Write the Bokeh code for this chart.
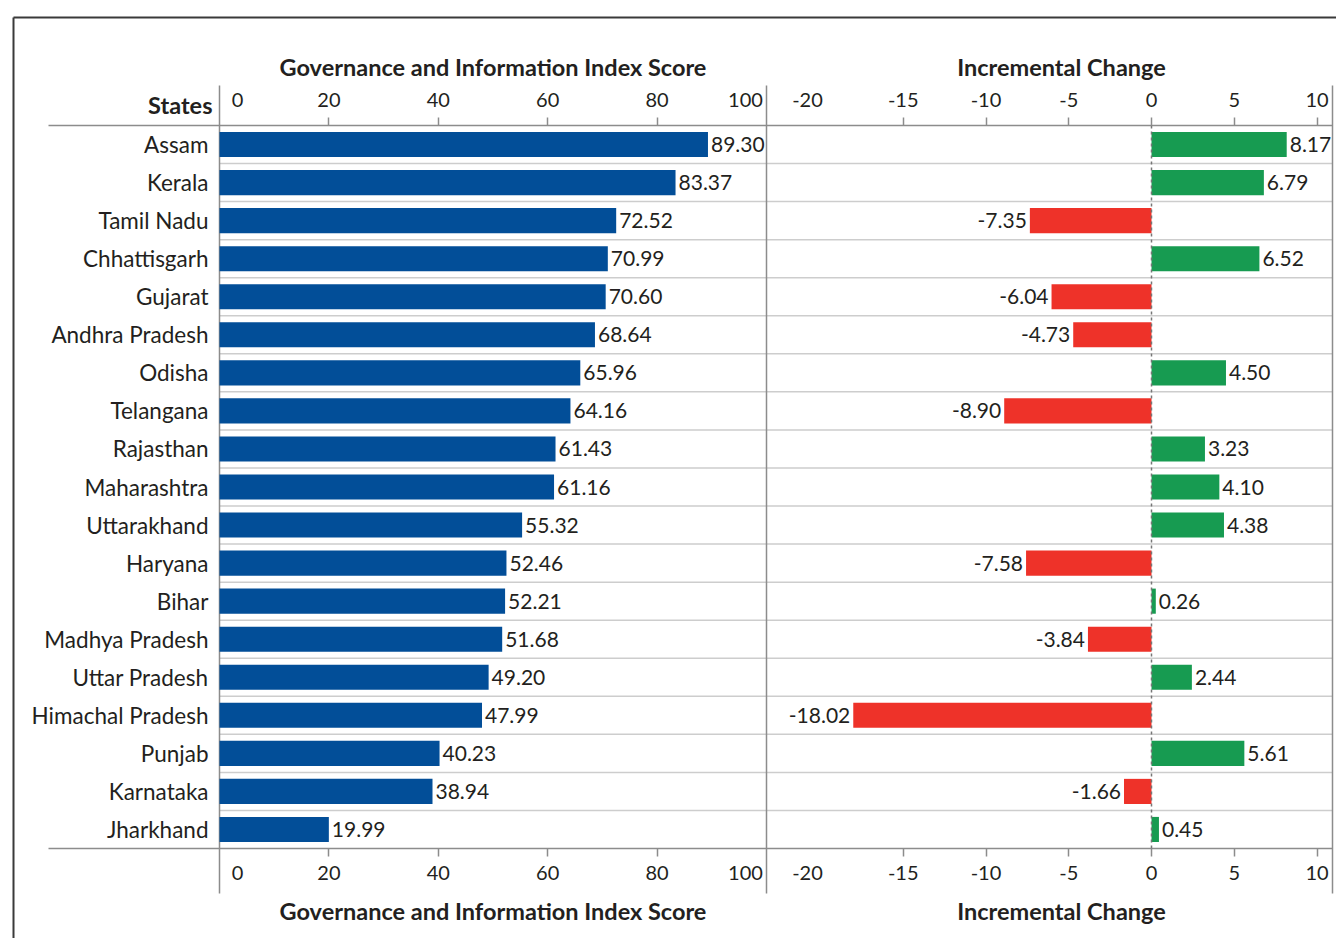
from bokeh.plotting import figure
from bokeh.models import Range1d, FixedTicker, LinearAxis, Label, ColumnDataSource
from bokeh.core.properties import value
from bokeh.embed import file_html
from bokeh.resources import INLINE

# ---------------- data ----------------
states = ["Assam", "Kerala", "Tamil Nadu", "Chhattisgarh", "Gujarat", "Andhra Pradesh",
          "Odisha", "Telangana", "Rajasthan", "Maharashtra", "Uttarakhand", "Haryana",
          "Bihar", "Madhya Pradesh", "Uttar Pradesh", "Himachal Pradesh", "Punjab",
          "Karnataka", "Jharkhand"]
scores = [89.30, 83.37, 72.52, 70.99, 70.60, 68.64, 65.96, 64.16, 61.43, 61.16,
          55.32, 52.46, 52.21, 51.68, 49.20, 47.99, 40.23, 38.94, 19.99]
changes = [8.17, 6.79, -7.35, 6.52, -6.04, -4.73, 4.50, -8.90, 3.23, 4.10,
           4.38, -7.58, 0.26, -3.84, 2.44, -18.02, 5.61, -1.66, 0.45]
score_ticks = [0, 20, 40, 60, 80, 100]
change_ticks = [-20, -15, -10, -5, 0, 5, 10]
score_title = "Governance and Information Index Score"
change_title = "Incremental Change"
cat_title = "States"

# ---------------- style / layout ----------------
BLUE = "#024E98"
GREEN = "#179B51"
RED = "#EE3229"
INK = "#231F20"
AXIS = "#8C8C8C"
SEP = "#CDCDCD"
FRAME = "#3A3A3A"
FONT = "Lato"

W, H = 1336, 938
PX_L, PX_MID, PX_R = 219, 766, 1332      # panel edges (pixels)
PX_TOP, PX_BOT = 125, 848                # table top / bottom
PX_ZERO = 1151                           # change-panel zero
n = len(states)
row_px = (PX_BOT - PX_TOP) / n
score_px = (PX_MID - PX_L) / 100.0
chg_px = 16.55
# pixel nudges of edge tick labels (label only, kept inside the panels)
LABEL_NUDGE = {("s", 0): 18, ("s", 100): -21, ("c", -20): -13}

x_start = -PX_L / score_px
x_end = (W - PX_L) / score_px
chg_start = -PX_ZERO / chg_px
chg_end = (W - PX_ZERO) / chg_px
chg_lo = (PX_MID - PX_ZERO) / chg_px
chg_hi = (PX_R - PX_ZERO) / chg_px
y_top = -PX_TOP / row_px
y_bottom = (H - PX_TOP) / row_px

def xp(px):   # pixel -> primary x
    return (px - PX_L) / score_px

def yp(py):   # pixel -> y
    return (py - PX_TOP) / row_px

ypos = [i + 0.5 for i in range(n)]

p = figure(width=W, height=H, x_range=Range1d(x_start, x_end),
           y_range=Range1d(y_bottom, y_top), output_backend="svg",
           toolbar_location=None, x_axis_location=None, y_axis_location=None,
           min_border=0, title_location=None)
p.outline_line_color = None
p.background_fill_color = "white"
p.border_fill_color = "white"
p.xgrid.visible = False
p.ygrid.visible = False

extra = {"chg": Range1d(chg_start, chg_end)}

# ---------------- structure lines ----------------
p.segment(x0=[xp(13), xp(13)], y0=[yp(17), yp(17)], x1=[xp(13), x_end + 50],
          y1=[y_bottom + 5, yp(17)], line_color=FRAME, line_width=2)
p.segment(x0=0, x1=xp(PX_R), y0=list(range(1, n)), y1=list(range(1, n)),
          line_color=SEP, line_width=1.5)
p.segment(x0=xp(48), x1=xp(PX_R), y0=[0, n], y1=[0, n], line_color=AXIS, line_width=1.5)
p.segment(x0=[0, 100, xp(PX_R)], x1=[0, 100, xp(PX_R)], y0=yp(85), y1=yp(893),
          line_color=AXIS, line_width=1.5)

# ---------------- bars ----------------
p.hbar(y=ypos, left=0, right=scores, height=0.66, fill_color=BLUE, line_color=None)

chg_src = ColumnDataSource(dict(
    y=ypos, v=changes,
    color=[GREEN if c >= 0 else RED for c in changes],
    label=[f"{c:.2f}" for c in changes],
    align=["left" if c >= 0 else "right" for c in changes],
    off=[3 if c >= 0 else -3 for c in changes],
))
p.hbar(y="y", left=0, right="v", height=0.66, fill_color="color", line_color=None,
       source=chg_src, x_range_name="chg")
p.segment(x0=0, x1=0, y0=0, y1=n, line_color="#777777", line_width=1.5,
          line_dash="3 3", x_range_name="chg")

# ---------------- value labels ----------------
p.text(x=scores, y=ypos, text=[f"{s:.2f}" for s in scores], x_offset=3,
       text_align="left", text_baseline="middle", text_font=value(FONT),
       text_font_size=value("21px"), text_color=INK)
p.text(x="v", y="y", text="label", x_offset="off", text_align="align",
       text_baseline="middle", text_font=value(FONT), text_font_size=value("21px"),
       text_color=INK, source=chg_src, x_range_name="chg")

# ---------------- axes ----------------
def style_x(ax, standoff, ticks_visible=True):
    ax.axis_line_color = None
    ax.major_tick_line_color = AXIS if ticks_visible else None
    ax.major_tick_line_width = 1.5
    ax.major_tick_out = 8
    ax.major_tick_in = 0
    ax.minor_tick_line_color = None
    ax.major_label_text_font = FONT
    ax.major_label_text_font_size = "20px"
    ax.major_label_text_color = INK
    ax.major_label_standoff = standoff
    ax.major_label_overrides = {t: str(t) for t in ax.ticker.ticks}
    return ax

panels = [("s", score_ticks, "default", x_start, x_end, score_px, (0, 100)),
          ("c", change_ticks, "chg", chg_start, chg_end, chg_px, (chg_lo, chg_hi))]

for side, loc, so in (("above", 0, 11), ("below", n, 9)):
    for key, ticks, rng, start, end, ppu, bnds in panels:
        plain = [t for t in ticks if (key, t) not in LABEL_NUDGE]
        ax = style_x(LinearAxis(fixed_location=loc, bounds=bnds, x_range_name=rng,
                                ticker=FixedTicker(ticks=plain)), so)
        p.add_layout(ax, side)
        for t in ticks:
            if (key, t) in LABEL_NUDGE:
                shift = LABEL_NUDGE[(key, t)] / ppu
                rname = f"{key}_{t}"
                extra[rname] = Range1d(start - shift, end - shift)
                axn = style_x(LinearAxis(fixed_location=loc, bounds=(t - 0.5, t + 0.5),
                                         x_range_name=rname,
                                         ticker=FixedTicker(ticks=[t])), so, False)
                p.add_layout(axn, side)

p.extra_x_ranges = extra

yax = LinearAxis(fixed_location=0, ticker=FixedTicker(ticks=ypos),
                 major_label_overrides={y: s for y, s in zip(ypos, states)})
yax.axis_line_color = None
yax.major_tick_line_color = None
yax.minor_tick_line_color = None
yax.major_label_standoff = 5
yax.major_label_text_font = FONT
yax.major_label_text_font_size = "22.5px"
yax.major_label_text_color = INK
p.add_layout(yax, "left")

# ---------------- titles ----------------
def title(text, x, y, align="center", rng="default"):
    return Label(x=x, y=y, text=text, text_align=align, text_baseline="alphabetic",
                 text_font=FONT, text_font_size="23.5px", text_font_style="bold",
                 text_color=INK, x_range_name=rng)

chg_title_x = (1061 - PX_ZERO) / chg_px
p.add_layout(title(score_title, 50, yp(66)))
p.add_layout(title(score_title, 50, yp(910)))
p.add_layout(title(change_title, chg_title_x, yp(66), rng="chg"))
p.add_layout(title(change_title, chg_title_x, yp(910), rng="chg"))
p.add_layout(title(cat_title, xp(212), yp(104), align="right"))

open("out.html", "w").write(file_html(p, INLINE))
